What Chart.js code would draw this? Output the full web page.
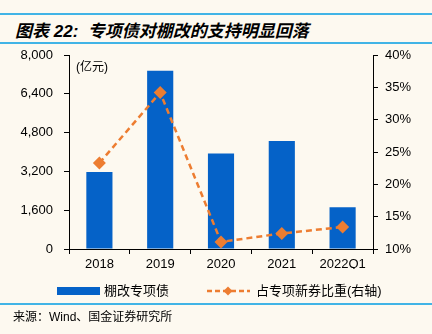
<!DOCTYPE html>
<html lang="zh-CN">
<head>
<meta charset="UTF-8">
<title>专项债对棚改的支持明显回落</title>
<script src="https://cdn.jsdelivr.net/npm/chart.js"></script>
<style>
	body { margin: 0; background: #fdf9f0; width: 432px; height: 334px; position: relative; overflow: hidden; }
	.rule { position: absolute; left: 0; width: 432px; height: 2px; background: #41b4e6; }
	#title { position: absolute; left: 15px; top: 17px; line-height: 22px; font: italic bold 17px "Liberation Sans", "Noto Sans CJK SC", sans-serif; color: #000; white-space: nowrap; }
	#unit { position: absolute; left: 76px; top: 57px; font: 12px "Liberation Sans", "Noto Sans CJK SC", sans-serif; color: #000; }
	#source { position: absolute; left: 13px; top: 307px; font: 12px "Liberation Sans", "Noto Sans CJK SC", sans-serif; color: #000; white-space: nowrap; }
	#wrap { position: absolute; left: 0; top: 0; width: 432px; height: 334px; }
</style>
</head>
<body>
	<div class="rule" style="top:13px;"></div>
	<div id="title">图表 22:&nbsp;&nbsp;专项债对棚改的支持明显回落</div>
	<div class="rule" style="top:42px;"></div>
	<div id="wrap"><canvas id="chart"></canvas></div>
	<div id="unit">(亿元)</div>
	<div class="rule" style="top:303px;"></div>
	<div id="source">来源：Wind、国金证券研究所</div>

<script>
	// 数据
	const years = ['2018', '2019', '2020', '2021', '2022Q1'];
	const bondAmount = [3180, 7350, 3940, 4450, 1720];     // 棚改专项债, 亿元
	const newBondShare = [23.3, 34.2, 11.1, 12.4, 13.4];   // 占专项新券比重, %
	const amountRange = [0, 8000, 1600];
	const shareRange = [10, 40, 5];

	const BLUE = '#0562c8';
	const ORANGE = '#ed7d31';
	const FONT = '"Liberation Sans", "Noto Sans CJK SC", sans-serif';

	// 底部图例, 直接用数据集的样式画
	const bottomLegend = {
		id: 'bottomLegend',
		afterDraw(chart) {
			const ctx = chart.ctx;
			const y = 291;
			ctx.save();
			ctx.fillStyle = BLUE;
			ctx.fillRect(57, y - 4, 43, 8);

			ctx.strokeStyle = ORANGE;
			ctx.lineWidth = 2.5;
			ctx.setLineDash([5, 3]);
			ctx.beginPath();
			ctx.moveTo(207, y);
			ctx.lineTo(250, y);
			ctx.stroke();
			ctx.setLineDash([]);
			ctx.fillStyle = ORANGE;
			ctx.beginPath();
			ctx.moveTo(228, y - 4.5);
			ctx.lineTo(232.5, y);
			ctx.lineTo(228, y + 4.5);
			ctx.lineTo(223.5, y);
			ctx.closePath();
			ctx.fill();

			ctx.fillStyle = '#000';
			ctx.font = '13px ' + FONT;
			ctx.textBaseline = 'middle';
			ctx.fillText(chart.data.datasets[1].label, 104, y);
			ctx.fillText(chart.data.datasets[0].label, 256, y);
			ctx.restore();
		}
	};

	const axisGrid = { display: true, drawOnChartArea: false, tickLength: 5, color: '#000', lineWidth: 1 };

	new Chart(document.getElementById('chart'), {
		data: {
			labels: years,
			datasets: [{
				type: 'line',
				label: '占专项新券比重(右轴)',
				data: newBondShare,
				yAxisID: 'y1',
				borderColor: ORANGE,
				backgroundColor: ORANGE,
				borderWidth: 2.5,
				borderDash: [6, 4],
				pointStyle: 'rectRot',
				pointRadius: 6.5,
				pointBorderWidth: 0,
				pointBackgroundColor: ORANGE,
				order: 0
			}, {
				type: 'bar',
				label: '棚改专项债',
				data: bondAmount,
				yAxisID: 'y',
				backgroundColor: BLUE,
				categoryPercentage: 1,
				barPercentage: 0.43,
				order: 1
			}]
		},
		options: {
			responsive: true,
			maintainAspectRatio: false,
			animation: false,
			layout: { padding: { top: 55, bottom: 65, left: 0, right: 0 } },
			plugins: { legend: { display: false }, tooltip: { enabled: false } },
			scales: {
				x: {
					grid: Object.assign({ offset: true }, axisGrid),
					border: { color: '#000', width: 1 },
					ticks: { color: '#000', font: { family: FONT, size: 13 }, padding: 3, maxRotation: 0 },
					afterFit(s) { s.height = 20; }
				},
				y: {
					position: 'left',
					min: amountRange[0],
					max: amountRange[1],
					grid: axisGrid,
					border: { color: '#000', width: 1 },
					ticks: {
						stepSize: amountRange[2],
						color: '#000',
						font: { family: FONT, size: 13 },
						padding: 11,
						callback: v => v.toLocaleString('en-US')
					},
					afterFit(s) { s.width = 69; }
				},
				y1: {
					position: 'right',
					min: shareRange[0],
					max: shareRange[1],
					grid: axisGrid,
					border: { color: '#000', width: 1 },
					ticks: {
						stepSize: shareRange[2],
						color: '#000',
						font: { family: FONT, size: 13 },
						padding: 7,
						callback: v => v + '%'
					},
					afterFit(s) { s.width = 59; }
				}
			}
		},
		plugins: [bottomLegend]
	});
</script>
</body>
</html>
